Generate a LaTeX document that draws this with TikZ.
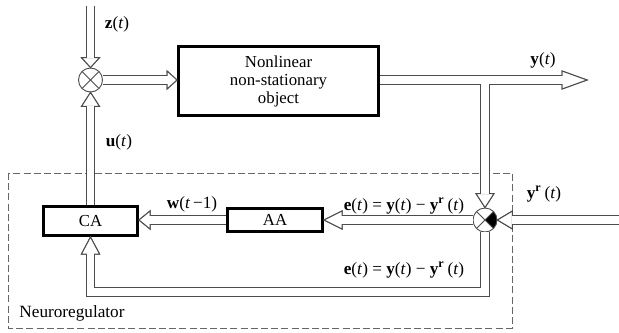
\documentclass[tikz,border=0pt]{standalone}
\usepackage{fontspec}
\setmainfont{Liberation Serif}
\usepackage{tikz}
\usetikzlibrary{arrows.meta, positioning, calc}
\definecolor{pipecol}{gray}{0.3}
\definecolor{framecol}{gray}{0.4}

% hollow block-arrow head for the "pipe" lines
\pgfdeclarearrow{
  name = Pipe,
  parameters = {\the\pgfarrowlength,\the\pgfarrowwidth},
  setup code = {
    \pgfarrowssettipend{\pgfarrowlength}
    \pgfarrowssetlineend{.2pt}
    \pgfarrowssetbackend{0pt}
    \pgfarrowssetvisualbackend{0pt}
    \pgfarrowshullpoint{\pgfarrowlength}{0pt}
    \pgfarrowsupperhullpoint{0pt}{.5\pgfarrowwidth}
    \pgfarrowssavethe\pgfarrowlength
    \pgfarrowssavethe\pgfarrowwidth
  },
  drawing code = {
    \pgfsetlinewidth{.5pt}
    \pgfsetmiterjoin
    \pgfsetbuttcap
    \pgfsetstrokecolor{pipecol}
    \pgfsetfillcolor{white}
    \pgfpathmoveto{\pgfqpoint{0pt}{.5\pgfarrowwidth}}
    \pgfpathlineto{\pgfqpoint{\pgfarrowlength}{0pt}}
    \pgfpathlineto{\pgfqpoint{0pt}{-.5\pgfarrowwidth}}
    \pgfpathclose
    \pgfusepathqfillstroke
    \pgfpathrectanglecorners{\pgfqpoint{-.35pt}{-1.8pt}}{\pgfqpoint{.35pt}{1.8pt}}
    \pgfusepathqfill
  },
  defaults = {length = 8pt, width = 9pt}
}

\newcommand\crossX{%
  \draw[pipecol, line width=.4pt]
    (path picture bounding box.north west) -- (path picture bounding box.south east)
    (path picture bounding box.north east) -- (path picture bounding box.south west);}

\tikzset{
  block/.style={
    rectangle, draw=black, line width=1.5pt, fill=white,
    inner sep=0pt, align=center, font=\fontsize{8.4}{9}\selectfont
  },
  junction/.style={
    circle, draw=pipecol, line width=.45pt, fill=white,
    minimum size=12pt, inner sep=0pt, path picture={\crossX}
  },
  cmpjunction/.style={
    junction, path picture={
      \fill[black] (path picture bounding box.center)
        -- (path picture bounding box.north east)
        -- (path picture bounding box.south east) -- cycle;
      \crossX}
  },
  pipe/.style={
    draw=pipecol, line width=4.6pt, -{Pipe[length=#1]},
    postaction={draw=white, line width=3.6pt, -{Pipe[length=#1]}}
  },
  pipe/.default=8pt,
  lbl/.style={font=\fontsize{8.6}{10}\selectfont, inner sep=0pt},
  regframe/.style={draw=framecol, line width=.5pt, dash pattern=on 3.5pt off 1.6pt}
}

\begin{document}
\begin{tikzpicture}[x=0.5pt, y=-0.5pt]
\useasboundingbox (0,0) rectangle (619,332);

\draw[regframe] (8,173) rectangle (512,328);
\node[lbl] (neuro) at (72,313) {Neuroregulator};

\node[junction] (sum) at (90.5,80) {};
\node[block, minimum width=100pt, minimum height=34.5pt] (plant) at (278.5,81)
  {Nonlinear\\non-stationary\\object};
\node[block, minimum width=47pt, minimum height=14.5pt] (ca) at (90.5,221) {CA};
\node[block, minimum width=47.5pt, minimum height=11.5pt] (aa) at (275,220) {AA};
\node[cmpjunction] (cmp) at (485,220) {};

\coordinate (zin) at (90.5,6);
\coordinate (yout) at (587,80);
\coordinate (tee) at (485,80);
\coordinate (yrin) at (619,220);
\coordinate (fb) at (300,292);

% forward path
\draw[pipe=5pt] (zin) -- (sum.north);
\draw[pipe=5pt] (sum.east) -- (sum.east -| plant.west);
\draw[pipe=12.5pt] (plant.east |- tee) -- (yout);
\draw[pipe=7pt] ([yshift=-1.8pt]tee) -- (cmp.north);
\draw[pipe=7.5pt] (yrin) -- (cmp.east);

% neuroregulator
\draw[pipe=9pt] (cmp.west) -- (aa.east);
\draw[pipe=5.5pt] (aa.west) -- (aa.west -| ca.east);
\draw[pipe=8.5pt] (cmp.south) |- (fb) -| (ca.south);
\draw[pipe=7pt] (ca.north) -- (sum.south);

% signal labels
\node[lbl] (zlbl) at (117,24) {\textbf{z}(\textit{t})};
\node[lbl] (ylbl) at (543,60) {\textbf{y}(\textit{t})};
\node[lbl] (ulbl) at (119,142) {\textbf{u}(\textit{t})};
\node[lbl] (wlbl) at (192,204) {\textbf{w}(\textit{t}\,−1)};
\node[lbl] (elbl) at (404,206)
  {\textbf{e}(\textit{t}) = \textbf{y}(\textit{t}) − \textbf{y}\textsuperscript{\textbf{r}}\,(\textit{t})};
\node[lbl] (elbl2) at (404,270)
  {\textbf{e}(\textit{t}) = \textbf{y}(\textit{t}) − \textbf{y}\textsuperscript{\textbf{r}}\,(\textit{t})};
\node[lbl] (yrlbl) at (544,194) {\textbf{y}\textsuperscript{\textbf{r}}\,(\textit{t})};

\end{tikzpicture}
\end{document}
